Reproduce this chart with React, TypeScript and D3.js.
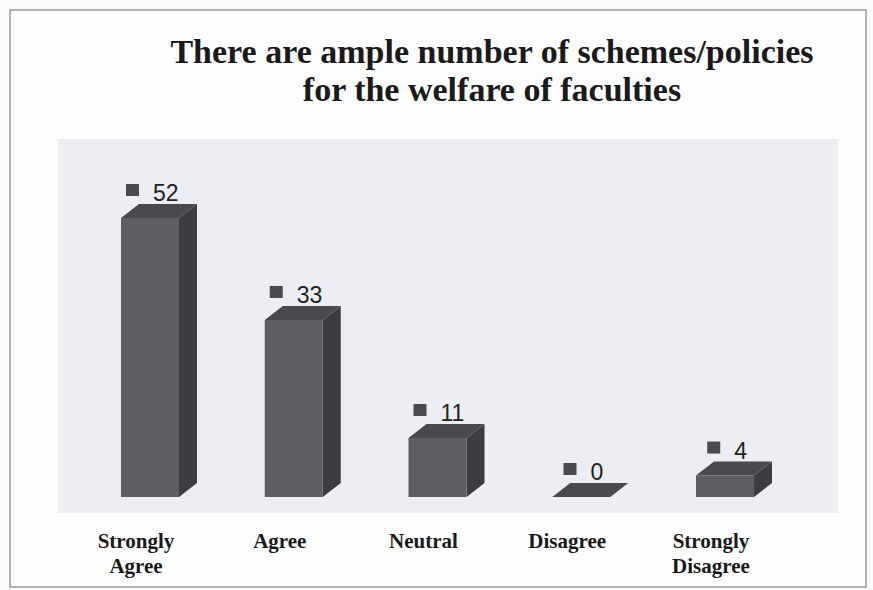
import React, { useRef, useEffect } from "react";
import * as d3 from "d3";

const categories = ["Strongly Agree", "Agree", "Neutral", "Disagree", "Strongly Disagree"];
const labelLines = [["Strongly", "Agree"], ["Agree"], ["Neutral"], ["Disagree"], ["Strongly", "Disagree"]];
const values = [52, 33, 11, 0, 4];
const titleLines = ["There are ample number of schemes/policies", "for the welfare of faculties"];

const W = 873;
const H = 590;

const App = () => {
  const svgRef = useRef<SVGSVGElement>(null);

  useEffect(() => {
    const svg = d3.select(svgRef.current);
    svg.selectAll("*").remove();

    // paper + frame
    svg.append("rect").attr("width", W).attr("height", H).attr("fill", "#fbfbfd");
    svg.append("rect")
      .attr("x", 10).attr("y", 10).attr("width", 856).attr("height", 577)
      .attr("fill", "#fdfdfe").attr("stroke", "#9a9a9e").attr("stroke-width", 1.5);

    // plot area
    svg.append("rect")
      .attr("x", 58).attr("y", 139).attr("width", 780).attr("height", 374)
      .attr("fill", "#eceef3");

    // title
    svg.append("g")
      .selectAll("text")
      .data(titleLines)
      .enter()
      .append("text")
      .attr("x", 492)
      .attr("y", (d, i) => 63 + i * 38)
      .attr("text-anchor", "middle")
      .style("font-family", "'Liberation Serif', 'Times New Roman', serif")
      .style("font-weight", "bold")
      .style("font-size", "34px")
      .style("fill", "#1a1a1a")
      .text(d => d);

    const x = d3.scalePoint<string>().domain(categories).range([150, 725]);
    const y = d3.scaleLinear().domain([0, 52]).range([497, 218]);
    const bw = 58;
    const dx = 18;
    const dy = 14;

    const bars = svg.append("g");
    categories.forEach((c, i) => {
      const cx = x(c)!;
      const x0 = cx - bw / 2;
      const x1 = cx + bw / 2;
      const yTop = y(values[i]);
      const yBase = y(0);
      const g = bars.append("g");
      // side
      g.append("path")
        .attr("d", `M${x1},${yTop} L${x1 + dx},${yTop - dy} L${x1 + dx},${yBase - dy} L${x1},${yBase} Z`)
        .attr("fill", "#3c3c41");
      // front
      if (yBase - yTop > 0) {
        g.append("rect")
          .attr("x", x0).attr("y", yTop).attr("width", bw).attr("height", yBase - yTop)
          .attr("fill", "#5d5d63");
      }
      // top
      g.append("path")
        .attr("d", `M${x0},${yTop} L${x0 + dx},${yTop - dy} L${x1 + dx},${yTop - dy} L${x1},${yTop} Z`)
        .attr("fill", "#49494e");

      // value label
      const txt = String(values[i]);
      const tw = txt.length * 12.5;
      const total = 27 + tw;
      const left = cx + 2 - total / 2;
      const base = yTop - dy - 3;
      g.append("rect")
        .attr("x", left).attr("y", base - 17).attr("width", 13).attr("height", 12)
        .attr("fill", "#4a4a50");
      g.append("text")
        .attr("x", left + 27).attr("y", base)
        .style("font-family", "'Liberation Sans', Arial, sans-serif")
        .style("font-size", "23px")
        .style("fill", "#222")
        .text(txt);

      // category label
      const t = g.append("text")
        .attr("x", cx - 14)
        .attr("y", 548)
        .attr("text-anchor", "middle")
        .style("font-family", "'Liberation Serif', 'Times New Roman', serif")
        .style("font-weight", "bold")
        .style("font-size", "21px")
        .style("fill", "#1a1a1a");
      labelLines[i].forEach((l, j) => {
        t.append("tspan").attr("x", cx - 14).attr("dy", j === 0 ? 0 : 25).text(l);
      });
    });
  }, []);

  return (
    <svg
      ref={svgRef}
      width={W}
      height={H}
      style={{ position: "absolute", left: 0, top: 0, display: "block" }}
    ></svg>
  );
};

export default App;
